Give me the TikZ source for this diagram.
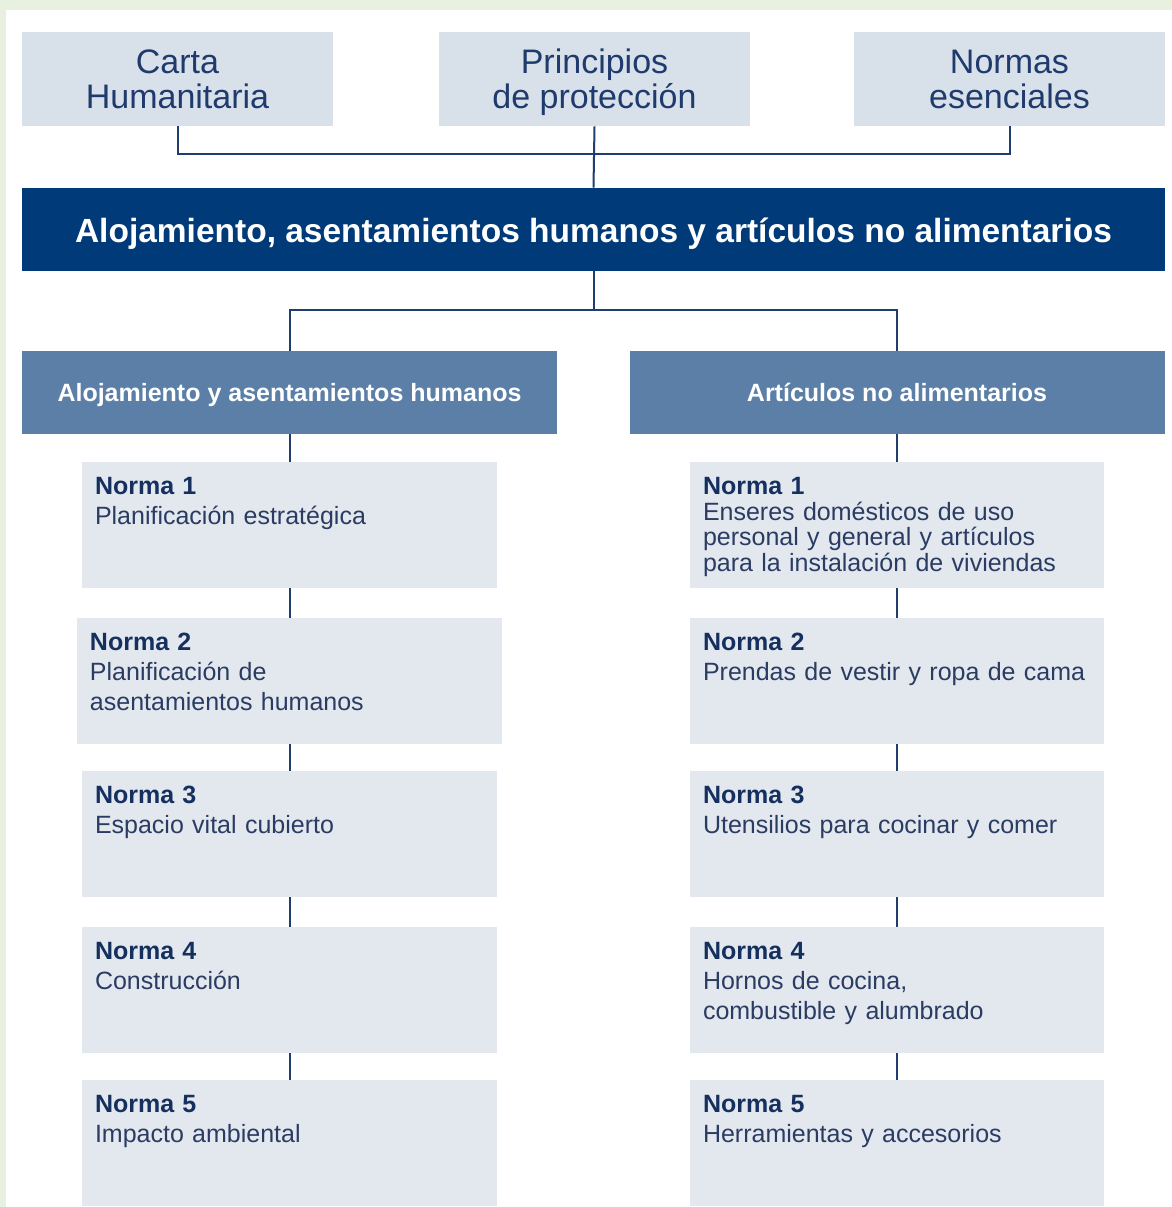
\documentclass[tikz,border=0pt]{standalone}
\usepackage{fontspec}
\setmainfont{Liberation Sans}
\definecolor{pagegreen}{HTML}{E8F0DF}
\definecolor{topfill}{HTML}{D8E0EA}
\definecolor{navy}{HTML}{003A78}
\definecolor{subfill}{HTML}{5B7FA7}
\definecolor{normfill}{HTML}{E3E8EF}
\definecolor{linec}{HTML}{1F3D6D}
\definecolor{topink}{HTML}{1F3B6D}
\definecolor{headink}{HTML}{15305F}
\definecolor{bodyink}{HTML}{2B3C63}

\begin{document}
\begin{tikzpicture}[inner sep=0mm, x=0.5pt, y=0.5pt,
  link/.style={draw=linec, line width=1pt},
  topbox/.style={fill=topfill, text=topink, minimum width=155.5pt, minimum height=47pt,
    text depth=0pt, align=center, font=\fontsize{17}{17.5}\selectfont},
  bannerbox/.style={fill=navy, text=white, minimum width=571.5pt, minimum height=41.5pt,
    text height=15.5pt, text depth=2.2pt, font=\fontsize{16.75}{18}\selectfont\bfseries},
  subbox/.style={fill=subfill, text=white, minimum width=267.5pt, minimum height=41.5pt,
    text height=11pt, text depth=2.05pt, font=\fontsize{12.5}{14}\selectfont\bfseries},
  normbox/.style={fill=normfill, minimum height=62.75pt, anchor=north},
  normtext/.style={anchor=north west, text=bodyink, text width=200pt, align=left,
    font=\fontsize{12.5}{#1}\selectfont},
  normtext/.default=15]

  \fill[pagegreen] (0,0) rectangle (1172,-1207);
  \fill[white] (6,-10) rectangle (1172,-1207);
  \useasboundingbox (0,0) rectangle (1172,-1207);

  \node[topbox] (carta)  at (177.5,-79)  {Carta\\Humanitaria};
  \node[topbox] (princ)  at (594.5,-79)  {Principios\\de protección};
  \node[topbox] (normas) at (1009.5,-79) {Normas\\esenciales};

  \node[bannerbox] (banner) at (593.5,-229.5)
    {Alojamiento, asentamientos humanos y artículos no alimentarios};

  \node[subbox] (subl) at (289.5,-392.5) {Alojamiento y asentamientos humanos};
  \node[subbox] (subr) at (897,-392.5)   {Artículos no alimentarios};

  \foreach \i/\yy/\wl in {1/462/207.5pt,2/618/212.5pt,3/771/207.5pt,4/927/207.5pt,5/1080/207.5pt} {
    \node[normbox, minimum width=\wl]     (nl\i) at (289.5,-\yy) {};
    \node[normbox, minimum width=207pt]   (nr\i) at (897,-\yy)   {};
  }

  \foreach \i/\txt in {1/{Planificación estratégica},
                       2/{Planificación de\\asentamientos humanos},
                       3/{Espacio vital cubierto},
                       4/{Construcción},
                       5/{Impacto ambiental}} {
    \node[normtext] (tl\i) at ([shift={(13,-15)}]nl\i.north west)
      {\textcolor{headink}{\bfseries Norma \i}\\\txt};
  }
  \foreach \i/\bs/\txt in {1/12.75/{Enseres domésticos de uso\\personal y general y artículos\\para la instalación de viviendas},
                           2/15/{Prendas de vestir y ropa de cama},
                           3/15/{Utensilios para cocinar y comer},
                           4/15/{Hornos de cocina,\\combustible y alumbrado},
                           5/15/{Herramientas y accesorios}} {
    \node[normtext=\bs] (tr\i) at ([shift={(13,-15)}]nr\i.north west)
      {\textcolor{headink}{\bfseries Norma \i}\\\txt};
  }

  \draw[link] (carta.south) -- ++(0,-28) -| (normas.south);
  \draw[link] (princ.south) -- (banner.north);
  \path (banner.south) ++(0,-39) coordinate (fork);
  \draw[link] (banner.south) -- (fork);
  \draw[link] (subl.north) |- (fork) -| (subr.north);

  \draw[link] (subl) -- (nl1);
  \draw[link] (subr) -- (nr1);
  \foreach \i/\j in {1/2,2/3,3/4,4/5} {
    \draw[link] (nl\i) -- (nl\j);
    \draw[link] (nr\i) -- (nr\j);
  }
\end{tikzpicture}
\end{document}
